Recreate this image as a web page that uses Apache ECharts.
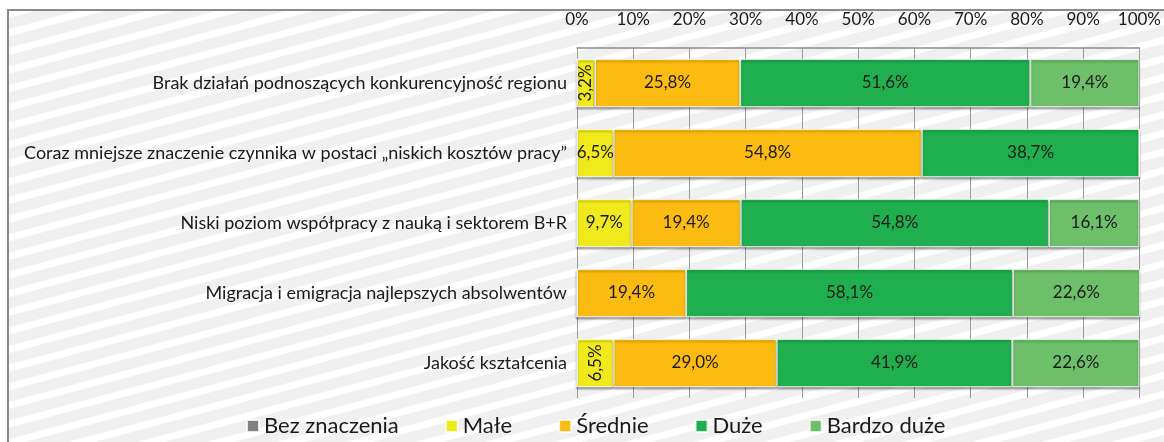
<!DOCTYPE html>
<html>
<head>
<meta charset="utf-8">
<script src="https://cdn.jsdelivr.net/npm/echarts@6/dist/echarts.min.js"></script>
<style>
  html, body { margin: 0; padding: 0; background: #fff; }
  #frame {
    position: absolute; left: 0; top: 0; width: 1164px; height: 442px;
    background: #fff;
  }
  #inner {
    position: absolute; left: 7px; top: 9px; width: 1157px; height: 433px;
    border-top: 2px solid #8a8a8a; border-left: 2px solid #8a8a8a;
    box-sizing: border-box;
    background: repeating-linear-gradient(165deg, #ffffff 0px, #ffffff 6px, #f0f0f0 7px, #f0f0f0 17px, #ffffff 18px);
  }
  #main { position: absolute; left: 0; top: 0; width: 1164px; height: 442px; }
</style>
</head>
<body>
<div id="frame"><div id="inner"></div></div>
<div id="main"></div>
<script>
// kategorie (od góry)
var categories = [
  'Brak działań podnoszących konkurencyjność regionu',
  'Coraz mniejsze znaczenie czynnika w postaci „niskich kosztów pracy”',
  'Niski poziom współpracy z nauką i sektorem B+R',
  'Migracja i emigracja najlepszych absolwentów',
  'Jakość kształcenia'
];
var seriesNames = ['Bez znaczenia', 'Małe', 'Średnie', 'Duże', 'Bardzo duże'];
var bezZnaczenia = [0, 0, 0, 0, 0];
var male = [3.2, 6.5, 9.7, 0, 6.5];
var srednie = [25.8, 54.8, 19.4, 19.4, 29.0];
var duze = [51.6, 38.7, 54.8, 58.1, 41.9];
var bardzoDuze = [19.4, 0, 16.1, 22.6, 22.6];
// etykiety pionowe dla wąskich segmentów (Małe)
var maleRotated = [true, false, false, false, true];

var colors = ['#808080', '#f0ea1c', '#fbbb10', '#1faf4f', '#6dbf69'];
var fontFamily = 'Lato, "Open Sans", sans-serif';

function fmt(v) {
  return v.toFixed(1).replace('.', ',') + '%';
}

function makeData(arr, rotated) {
  return arr.map(function (v, i) {
    var item = { value: v };
    if (rotated && rotated[i]) {
      item.label = { rotate: 90 };
    }
    return item;
  });
}

var allData = [bezZnaczenia, male, srednie, duze, bardzoDuze];

var myChart = echarts.init(document.getElementById('main'));
var option = {
  backgroundColor: 'transparent',
  color: colors,
  textStyle: { fontFamily: fontFamily },
  grid: {
    left: 577,
    right: 23,
    top: 48,
    bottom: 44
  },
  legend: {
    data: seriesNames,
    left: 241,
    top: 410,
    itemWidth: 12,
    itemHeight: 12,
    itemGap: 46,
    icon: 'rect',
    textStyle: { fontSize: 22, color: '#1a1a1a', fontFamily: fontFamily }
  },
  xAxis: {
    type: 'value',
    position: 'top',
    min: 0,
    max: 100,
    interval: 10,
    axisLine: { show: true, lineStyle: { color: '#8c8c8c', width: 1.5 } },
    axisTick: { show: false },
    axisLabel: {
      formatter: '{value}%',
      margin: 20,
      fontSize: 17,
      color: '#1a1a1a',
      fontFamily: fontFamily
    },
    splitLine: { show: true, lineStyle: { color: '#9a9a9a', width: 1 } }
  },
  yAxis: {
    type: 'category',
    data: categories,
    inverse: true,
    axisLine: { show: true, lineStyle: { color: '#9a9a9a' } },
    axisTick: { show: false },
    axisLabel: {
      fontSize: 18,
      color: '#1a1a1a',
      margin: 10,
      fontFamily: fontFamily
    }
  },
  series: seriesNames.map(function (name, k) {
    return {
      name: name,
      type: 'bar',
      stack: 'total',
      barCategoryGap: '31%',
      data: makeData(allData[k], k === 1 ? maleRotated : null),
      itemStyle: {
        borderColor: 'rgba(255,255,255,0.8)',
        borderWidth: 1,
        shadowColor: 'rgba(0,0,0,0.35)',
        shadowBlur: 2,
        shadowOffsetY: 2
      },
      label: {
        show: true,
        position: 'inside',
        fontSize: 17,
        color: '#1a1a1a',
        fontFamily: fontFamily,
        formatter: function (p) {
          return p.value > 0 ? fmt(p.value) : '';
        }
      }
    };
  })
};
myChart.setOption(option);
</script>
</body>
</html>
